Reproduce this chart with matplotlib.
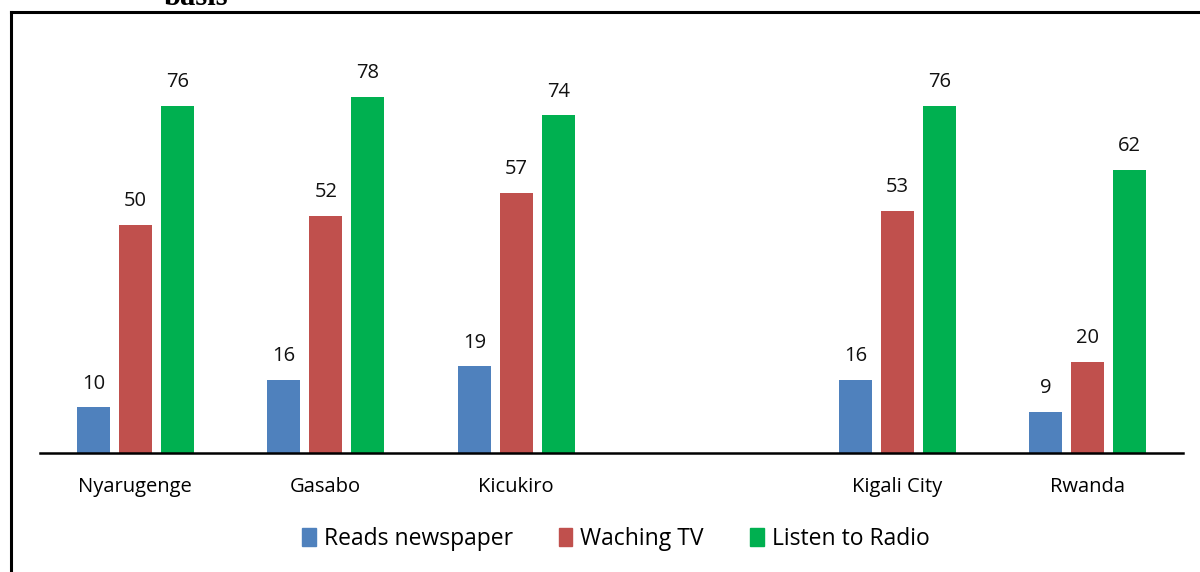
import matplotlib
matplotlib.use("Agg")
import matplotlib.pyplot as plt
from matplotlib.lines import Line2D
import numpy as np

categories = ["Nyarugenge", "Gasabo", "Kicukiro", "", "Kigali City", "Rwanda"]
newspaper = [10, 16, 19, None, 16, 9]
tv = [50, 52, 57, None, 53, 20]
radio = [76, 78, 74, None, 76, 62]
series_names = ["Reads newspaper", "Waching TV", "Listen to Radio"]
colors = ["#4F81BD", "#C0504D", "#00B050"]

W, H = 1200, 572
fig = plt.figure(figsize=(W / 100, H / 100), dpi=100)
plt.rcParams['font.family'] = ['Open Sans', 'DejaVu Sans']

ax_left, ax_right = 40 / W, 1183 / W
ax_bottom = 1 - 453 / H
ax_top = 1 - 65 / H
ax = fig.add_axes([ax_left, ax_bottom, ax_right - ax_left, ax_top - ax_bottom])

x = np.arange(len(categories))
bw = 0.173
step = 0.22
for i, (vals, name, c) in enumerate(zip([newspaper, tv, radio], series_names, colors)):
    xs = [xi + (i - 1) * step for xi, v in zip(x, vals) if v is not None]
    vs = [v for v in vals if v is not None]
    ax.bar(xs, vs, width=bw, color=c, label=name)
    for xx, v in zip(xs, vs):
        ax.text(xx, v + 3.0, str(v), ha='center', va='bottom', fontsize=14.5, color='#111111')

ax.set_xlim(-0.5, len(categories) - 0.5)
ax.set_ylim(0, 85)
ax.set_xticks(x)
ax.set_xticklabels(categories, fontsize=14.5)
ax.tick_params(axis='x', length=0, pad=17)
ax.set_yticks([])
for s in ['left', 'right', 'top']:
    ax.spines[s].set_visible(False)
ax.spines['bottom'].set_linewidth(1.8)

handles = [plt.Rectangle((0, 0), 1, 1, color=c) for c in colors]
fig.legend(handles, series_names, loc='center', bbox_to_anchor=(0.513, 1 - 539 / H),
           ncol=3, frameon=False, fontsize=16.5, handlelength=0.6, handleheight=0.85,
           handletextpad=0.35, columnspacing=2.0)

# border lines
fig.add_artist(Line2D([11 / W, 11 / W], [0, 1 - 12 / H], color='black', lw=2.2,
                      transform=fig.transFigure))
fig.add_artist(Line2D([11 / W, 1], [1 - 12 / H, 1 - 12 / H], color='black', lw=2.2,
                      transform=fig.transFigure))

fig.text(196 / W, 1 - 5 / H, "basis", ha='center', va='baseline', fontsize=22,
         fontweight='bold', family=['Liberation Serif', 'DejaVu Serif'])

fig.savefig("out.png", dpi=100)
